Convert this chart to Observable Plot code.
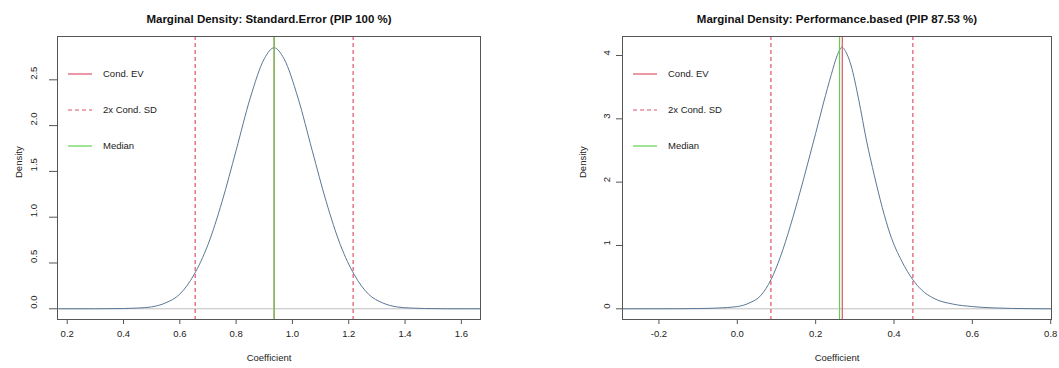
<!DOCTYPE html>
<html><head><meta charset="utf-8">
<script src="https://cdn.jsdelivr.net/npm/d3@7"></script>
<script src="https://cdn.jsdelivr.net/npm/@observablehq/plot@0.6"></script>
<style>
body{margin:0;background:#fff;font-family:"Liberation Sans",Arial,sans-serif;}
#wrap{position:relative;width:1059px;height:368px;overflow:hidden;}
#wrap svg{position:absolute;top:0;}
</style></head><body><div id="wrap"></div>
<script>
// ---- Left panel: Standard.Error ----
const leftTitle = "Marginal Density: Standard.Error (PIP 100 %)";
const leftCoef = [0.17, 0.30, 0.40, 0.45, 0.50, 0.55, 0.60, 0.65, 0.70, 0.75, 0.80, 0.85, 0.90, 0.935, 0.97, 1.02, 1.07, 1.12, 1.17, 1.22, 1.27, 1.32, 1.37, 1.42, 1.47, 1.55, 1.67];
const leftDensity = [0, 0.000, 0.003, 0.008, 0.021, 0.065, 0.16, 0.37, 0.70, 1.17, 1.73, 2.30, 2.73, 2.85, 2.73, 2.30, 1.73, 1.17, 0.70, 0.37, 0.16, 0.065, 0.021, 0.008, 0.003, 0.000, 0];
const leftEV = 0.935, leftLower = 0.6545, leftUpper = 1.2156, leftMedian = 0.935;
const leftXTicks = [0.2, 0.4, 0.6, 0.8, 1.0, 1.2, 1.4, 1.6];
const leftYTicks = [0, 0.5, 1.0, 1.5, 2.0, 2.5];

// ---- Right panel: Performance.based ----
const rightTitle = "Marginal Density: Performance.based (PIP 87.53 %)";
const rightCoef = [-0.30, -0.15, -0.10, -0.05, 0.00, 0.03, 0.06, 0.086, 0.11, 0.136, 0.16, 0.18, 0.20, 0.22, 0.24, 0.255, 0.267, 0.28, 0.29, 0.31, 0.33, 0.35, 0.37, 0.39, 0.42, 0.448, 0.47, 0.50, 0.55, 0.60, 0.65, 0.70, 0.80];
const rightDensity = [0, 0.001, 0.004, 0.012, 0.035, 0.09, 0.21, 0.46, 0.82, 1.32, 1.84, 2.30, 2.77, 3.25, 3.70, 4.00, 4.13, 4.02, 3.85, 3.30, 2.65, 2.10, 1.60, 1.18, 0.75, 0.46, 0.30, 0.17, 0.075, 0.035, 0.015, 0.006, 0];
const rightEV = 0.268, rightLower = 0.0858, rightUpper = 0.4482, rightMedian = 0.261;
const rightXTicks = [-0.2, 0.0, 0.2, 0.4, 0.6, 0.8];
const rightYTicks = [0, 1, 2, 3, 4];

const legendLabels = ["Cond. EV", "2x Cond. SD", "Median"];

const RED = "#DF536B", GREEN = "#61D04F", CURVE = "#5a7896";
const fmt1 = d => d3.format(".1f")(d).replace("\u2212", "-");
const fmt0 = d => String(d);

function panel(o) {
  const data = o.xs.map((x, i) => ({x, y: o.ys[i]}));
  const svg = Plot.plot({
    width: o.width, height: 368,
    marginLeft: o.ml, marginRight: o.mr, marginTop: 36, marginBottom: 49,
    style: {fontFamily: "'Liberation Sans', Arial, sans-serif", fontSize: "9.5px", color: "#222", background: "white"},
    x: {domain: o.xDomain},
    y: {domain: o.yDomain},
    marks: [
      Plot.ruleY([0], {stroke: "#bebebe", strokeWidth: 1}),
      Plot.line(data, {x: "x", y: "y", stroke: CURVE, strokeWidth: 1, curve: "monotone-x", clip: true}),
      Plot.ruleX([o.lower, o.upper], {stroke: RED, strokeWidth: 1.2, strokeDasharray: "4,3"}),
      Plot.ruleX([o.ev], {stroke: RED, strokeWidth: 1.2}),
      Plot.ruleX([o.median], {stroke: GREEN, strokeWidth: 1.2}),
      Plot.frame({stroke: "#555"}),
      Plot.axisX({ticks: o.xTicks, tickSize: 5, tickPadding: 6, tickFormat: fmt1, label: null, stroke: "#555"}),
      Plot.axisY({ticks: o.yTicks, tickSize: o.ytick, tickFormat: () => "", label: null, stroke: "#555"}),
      Plot.text(o.yTicks, {y: d => d, text: o.yFmt, frameAnchor: "left", dx: -o.ylab, rotate: -90, fill: "#222"}),
      Plot.text(["Density"], {frameAnchor: "left", dx: -o.dlab, rotate: -90, fill: "#222"}),
      Plot.text(["Coefficient"], {frameAnchor: "bottom", dy: 41, fill: "#222"}),
      Plot.text([o.title], {frameAnchor: "top", dy: -22, fontWeight: "bold", fontSize: 11.5, fill: "#111"})
    ]
  });
  // legend (top-left inside box)
  const g = d3.select(svg).append("g").attr("text-anchor", "start");
  const rows = [36 + 38, 36 + 74, 36 + 110];
  const styles = [{c: RED, d: null}, {c: RED, d: "4,3"}, {c: GREEN, d: null}];
  legendLabels.forEach((t, i) => {
    g.append("line").attr("x1", o.ml + 11).attr("x2", o.ml + 35)
      .attr("y1", rows[i]).attr("y2", rows[i])
      .attr("stroke", styles[i].c).attr("stroke-width", 1.2)
      .attr("stroke-dasharray", styles[i].d);
    g.append("text").attr("x", o.ml + 46).attr("y", rows[i]).attr("dy", "0.35em")
      .attr("text-anchor", "start")
      .attr("font-size", "9.5px").attr("fill", "#222").text(t);
  });
  svg.style.left = o.left + "px";
  return svg;
}

const wrap = document.getElementById("wrap");
wrap.appendChild(panel({
  title: leftTitle, xs: leftCoef, ys: leftDensity,
  ev: leftEV, lower: leftLower, upper: leftUpper, median: leftMedian,
  xDomain: [0.1655, 1.668], yDomain: [-0.117, 2.973],
  xTicks: leftXTicks, yTicks: leftYTicks, yFmt: fmt1,
  width: 530, ml: 57, mr: 50, left: 0, ytick: 8, ylab: 24, dlab: 39
}));
wrap.appendChild(panel({
  title: rightTitle, xs: rightCoef, ys: rightDensity,
  ev: rightEV, lower: rightLower, upper: rightUpper, median: rightMedian,
  xDomain: [-0.293, 0.802], yDomain: [-0.169, 4.30],
  xTicks: rightXTicks, yTicks: rightYTicks, yFmt: fmt0,
  width: 529, ml: 92, mr: 8, left: 530, ytick: 6, ylab: 16, dlab: 40
}));
</script></body></html>
